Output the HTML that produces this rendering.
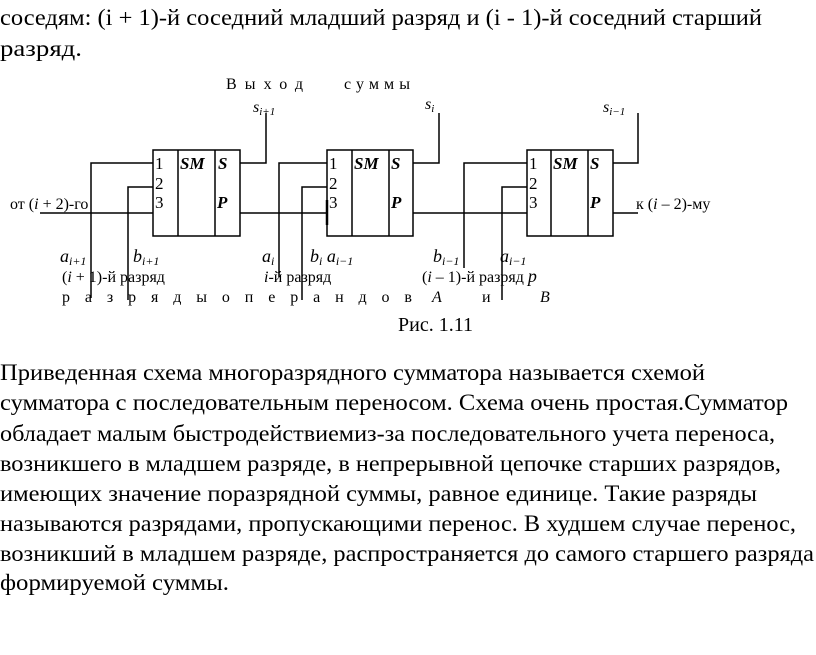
<!DOCTYPE html>
<html><head><meta charset="utf-8"><style>
html,body{margin:0;padding:0;background:#fff;}
svg{display:block;}
svg text{font-family:"Liberation Serif","Times New Roman",serif;}
</style></head><body>
<svg width="816" height="655" xmlns="http://www.w3.org/2000/svg" fill="#000">
<g font-size="23">
<text x="0" y="25" textLength="762" lengthAdjust="spacingAndGlyphs">соседям: (i + 1)-й соседний младший разряд и (i - 1)-й соседний старший</text>
<text x="0" y="56" textLength="82" lengthAdjust="spacingAndGlyphs">разряд.</text>
<text x="0" y="380" textLength="705" lengthAdjust="spacingAndGlyphs">Приведенная схема многоразрядного сумматора называется схемой</text>
<text x="0" y="410" textLength="788" lengthAdjust="spacingAndGlyphs">сумматора с последовательным переносом. Схема очень простая.Сумматор</text>
<text x="0" y="441" textLength="775" lengthAdjust="spacingAndGlyphs">обладает малым быстродействиемиз-за последовательного учета переноса,</text>
<text x="0" y="471" textLength="781" lengthAdjust="spacingAndGlyphs">возникшего в младшем разряде, в непрерывной цепочке старших разрядов,</text>
<text x="0" y="501" textLength="757" lengthAdjust="spacingAndGlyphs">имеющих значение поразрядной суммы, равное единице. Такие разряды</text>
<text x="0" y="531" textLength="796" lengthAdjust="spacingAndGlyphs">называются разрядами, пропускающими перенос. В худшем случае перенос,</text>
<text x="0" y="561" textLength="814" lengthAdjust="spacingAndGlyphs">возникший в младшем разряде, распространяется до самого старшего разряда</text>
<text x="0" y="590" textLength="229" lengthAdjust="spacingAndGlyphs">формируемой суммы.</text>
</g>
<g stroke="#000" stroke-width="1.5" fill="none">
<rect x="153" y="150" width="87" height="86"/><line x1="178" y1="150" x2="178" y2="236"/><line x1="215" y1="150" x2="215" y2="236"/>
<rect x="327" y="150" width="86" height="86"/><line x1="352" y1="150" x2="352" y2="236"/><line x1="389" y1="150" x2="389" y2="236"/>
<rect x="527" y="150" width="86" height="86"/><line x1="551" y1="150" x2="551" y2="236"/><line x1="588" y1="150" x2="588" y2="236"/>
<polyline points="153,163 91,163 91,298"/>
<polyline points="153,187 128,187 128,300"/>
<line x1="40" y1="213" x2="153" y2="213"/>
<polyline points="240,163 266,163 266,113"/>
<polyline points="327,163 279,163 279,277"/>
<polyline points="327,187 302,187 302,300"/>
<line x1="240" y1="213" x2="327" y2="213"/>
<line x1="327" y1="200" x2="327" y2="225" stroke-width="2.5"/>
<polyline points="413,163 439,163 439,113"/>
<polyline points="527,163 464,163 464,268"/>
<polyline points="527,187 502,187 502,300"/>
<line x1="413" y1="213" x2="527" y2="213"/>
<polyline points="613,163 638,163 638,113"/>
<line x1="613" y1="213" x2="638" y2="213"/>
</g>
<g font-size="17">
<text x="155" y="169">1</text><text x="155" y="189">2</text><text x="155" y="208">3</text>
<text x="329" y="169">1</text><text x="329" y="189">2</text><text x="329" y="208">3</text>
<text x="529" y="169">1</text><text x="529" y="189">2</text><text x="529" y="208">3</text>
</g>
<g font-size="17" font-style="italic" font-weight="bold">
<text x="180" y="169">SM</text><text x="218" y="169">S</text><text x="217" y="208">P</text>
<text x="354" y="169">SM</text><text x="391" y="169">S</text><text x="391" y="208">P</text>
<text x="553" y="169">SM</text><text x="590" y="169">S</text><text x="590" y="208">P</text>
</g>
<g font-size="16">
<text x="226" y="89" textLength="77" lengthAdjust="spacing">Выход</text>
<text x="344" y="89" textLength="66" lengthAdjust="spacing">суммы</text>
<text x="10" y="209">от (<tspan font-style="italic">i</tspan> + 2)-го</text>
<text x="636" y="209">к (<tspan font-style="italic">i</tspan> – 2)-му</text>
<text x="253" y="112" font-style="italic">s<tspan font-size="11" dy="3">i+1</tspan></text>
<text x="425" y="109" font-style="italic">s<tspan font-size="11" dy="3">i</tspan></text>
<text x="603" y="112" font-style="italic">s<tspan font-size="11" dy="3">i−1</tspan></text>
<text x="60" y="262" font-style="italic" font-size="18">a<tspan font-size="12" dy="3">i+1</tspan></text>
<text x="133" y="262" font-style="italic" font-size="18">b<tspan font-size="12" dy="3">i+1</tspan></text>
<text x="262" y="262" font-style="italic" font-size="18">a<tspan font-size="12" dy="3">i</tspan></text>
<text x="310" y="262" font-style="italic" font-size="18">b<tspan font-size="12" dy="3">i</tspan><tspan dy="-3"> a</tspan><tspan font-size="12" dy="3">i−1</tspan></text>
<text x="433" y="262" font-style="italic" font-size="18">b<tspan font-size="12" dy="3">i−1</tspan></text>
<text x="500" y="262" font-style="italic" font-size="18">a<tspan font-size="12" dy="3">i−1</tspan></text>
<text x="62" y="282">(<tspan font-style="italic">i</tspan> + 1)-й  разряд</text>
<text x="264" y="282"><tspan font-style="italic">i</tspan>-й разряд</text>
<text x="422" y="282">(<tspan font-style="italic">i</tspan> – 1)-й  разряд <tspan font-style="italic" font-size="18">p</tspan></text>
<text x="62" y="302" textLength="350" lengthAdjust="spacing">р а з р я д ы  о п е р а н д о в</text>
<text x="432" y="302" font-style="italic">A</text>
<text x="482" y="302">и</text>
<text x="540" y="302" font-style="italic">B</text>
<text x="398" y="331" font-size="20">Рис. 1.11</text>
</g>
</svg>
</body></html>
